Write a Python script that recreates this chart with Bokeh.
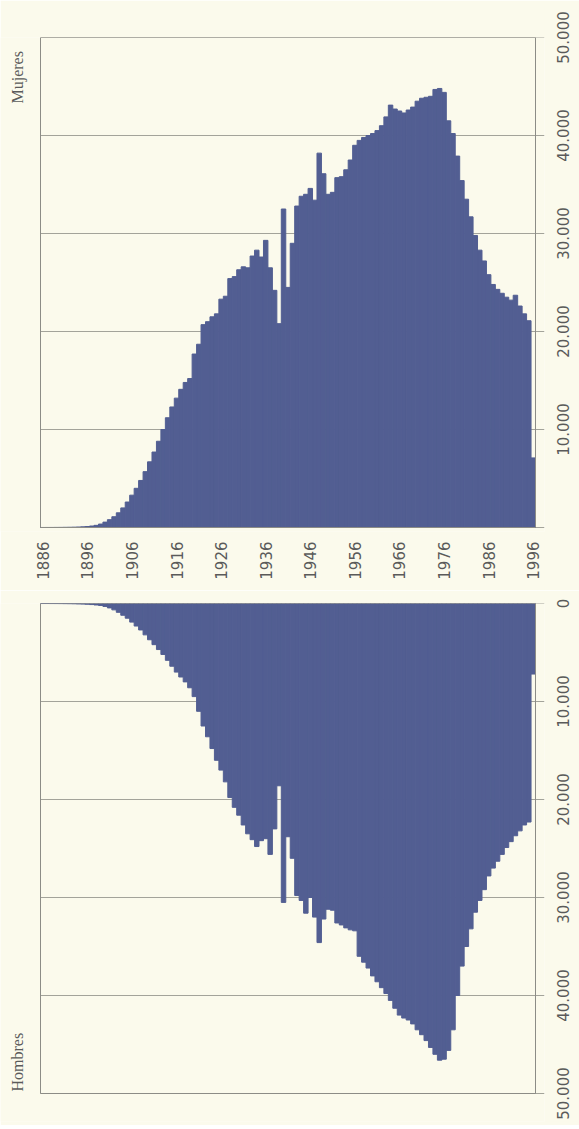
import math
from bokeh.plotting import figure
from bokeh.layouts import column
from bokeh.models import Range1d, FixedTicker, Label
from bokeh.embed import file_html
from bokeh.resources import INLINE

# ---------------- data ----------------
years = list(range(1886, 1997))

mujeres = [
    3, 4, 6, 8, 12, 18, 25, 35, 50, 70,                                  # 1886-1895
    100, 150, 220, 350, 550, 800, 1100, 1500, 2000, 2600,                # 1896-1905
    3300, 4000, 4800, 5700, 6700, 7700, 8800, 10000, 11200, 12300,       # 1906-1915
    13200, 14100, 14800, 15200, 17700, 18700, 20700, 21000, 21500, 21800,  # 1916-1925
    23300, 23600, 25400, 25600, 26300, 26600, 26500, 27700, 28300, 27600,  # 1926-1935
    29300, 26500, 24200, 20800, 32500, 24500, 29000, 32800, 33800, 34000,  # 1936-1945
    34600, 33400, 38200, 36100, 34000, 34200, 35700, 35800, 36500, 37500,  # 1946-1955
    39000, 39500, 39800, 40000, 40200, 40500, 41000, 41900, 43100, 42700,  # 1956-1965
    42500, 42300, 42600, 42900, 43500, 43800, 43900, 44000, 44700, 44800,  # 1966-1975
    44400, 41500, 40200, 37900, 35400, 33500, 31700, 29800, 28300, 27200,  # 1976-1985
    25800, 24800, 24300, 23900, 23500, 23200, 23700, 22600, 21800, 21100,  # 1986-1995
    7100,                                                                  # 1996
]

hombres = [
    2, 3, 5, 7, 10, 15, 22, 30, 45, 60,                                  # 1886-1895
    80, 110, 150, 200, 300, 450, 650, 900, 1200, 1500,                   # 1896-1905
    1900, 2300, 2700, 3200, 3700, 4200, 4700, 5200, 5800, 6400,          # 1906-1915
    7000, 7500, 8000, 8600, 9500, 11000, 12500, 13600, 14800, 16000,     # 1916-1925
    17000, 18200, 19800, 20800, 21600, 22600, 23500, 24100, 24800, 24200,  # 1926-1935
    24000, 25600, 23000, 18600, 30500, 23800, 26000, 29800, 30300, 31600,  # 1936-1945
    30000, 32000, 34600, 32200, 31200, 31300, 32600, 32800, 33100, 33300,  # 1946-1955
    33400, 36000, 36600, 37200, 38000, 38600, 39200, 39800, 40500, 41300,  # 1956-1965
    42000, 42300, 42500, 42900, 43500, 44000, 44600, 45300, 46000, 46600,  # 1966-1975
    46500, 45600, 43500, 40000, 37000, 35000, 33200, 31500, 30300, 29200,  # 1976-1985
    27800, 27000, 26300, 25600, 24900, 24300, 23700, 23200, 22600, 22300,  # 1986-1995
    7200,                                                                  # 1996
]

year_ticks = list(range(1886, 1997, 10))
value_ticks = [0, 10000, 20000, 30000, 40000, 50000]
value_labels = ["0", "10.000", "20.000", "30.000", "40.000", "50.000"]

# ---------------- style / layout ----------------
BG = "#FBFAEC"
BAR = "#525E92"
GRID = "#A3A39A"
FRAME = "#8C8C86"
TXT = "#5A5A5A"
FONT_PX = 15

BOX_LEFT = 40                    # px where the drawn box starts
BOX_W, BOX_H = 495, 490
TICK_PX = 9                      # tick marks right of the box
X0, X1 = 1885.5, 1996.5
PPY = BOX_W / (X1 - X0)          # pixels per year
XL = X0 - BOX_LEFT / PPY         # frame extends left to hold the side label
XT = X1 + TICK_PX / PPY          # frame extends right to hold tick marks
VMAX = 50000
VPP = VMAX / BOX_H               # value per pixel


def label_half_len(s):
    """Half the rendered length (in value units) of a rotated tick label."""
    digits = sum(c.isdigit() for c in s)
    others = len(s) - digits
    px = FONT_PX * (0.636 * digits + 0.318 * others)
    return px / 2 * VPP


def make_panel(is_top):
    ext_px = 4 if is_top else 28
    ext = ext_px * VPP
    p = figure(
        frame_width=BOX_LEFT + BOX_W + TICK_PX, frame_height=BOX_H + ext_px,
        x_range=Range1d(XL, XT),
        y_range=Range1d(-ext, VMAX) if is_top else Range1d(VMAX + ext, 0),
        y_axis_location="right",
        x_axis_location="below" if is_top else None,
        output_backend="svg", toolbar_location=None,
        min_border_left=0, min_border_right=35,
        min_border_top=37 if is_top else 13,
        min_border_bottom=59 if is_top else 4,
    )
    p.background_fill_color = BG
    p.border_fill_color = BG
    p.outline_line_color = None
    p.xgrid.visible = False
    p.ygrid.visible = False

    # grid lines inside the box, continued as tick marks to the right
    n = len(value_ticks)
    p.segment(x0=[X0] * n, x1=[XT] * n, y0=value_ticks, y1=value_ticks,
              line_color=GRID, line_width=1)

    vals = mujeres if is_top else hombres
    p.vbar(x=years, top=vals, bottom=0, width=1.0,
           fill_color=BAR, line_color=BAR, line_width=1)

    # box outline
    p.quad(left=[X0], right=[X1], bottom=[0], top=[VMAX],
           fill_color=None, line_color=FRAME, line_width=1)

    # value labels: rotated text starts at its anchor, so anchor each one
    # half a label-length away from its tick to centre it on the tick
    sign = -1 if is_top else 1
    anchors = [round(t + sign * label_half_len(s)) for t, s in zip(value_ticks, value_labels)]
    ya = p.yaxis[0]
    ya.ticker = FixedTicker(ticks=anchors)
    ya.major_label_overrides = {a: s for a, s in zip(anchors, value_labels)}
    ya.major_label_orientation = math.pi / 2
    ya.major_tick_out = 0
    ya.major_tick_in = 0
    ya.minor_tick_out = 0
    ya.minor_tick_in = 0
    ya.axis_line_color = None
    ya.major_label_standoff = 19
    ya.major_label_text_font = "DejaVu Sans"
    ya.major_label_text_font_size = f"{FONT_PX}px"
    ya.major_label_text_color = TXT

    if is_top:
        xa = p.xaxis[0]
        xa.ticker = FixedTicker(ticks=year_ticks)
        xa.major_label_orientation = math.pi / 2
        xa.major_tick_out = 0
        xa.major_tick_in = 0
        xa.minor_tick_out = 0
        xa.minor_tick_in = 0
        xa.axis_line_color = None
        xa.major_label_standoff = 10
        xa.major_label_text_font = "DejaVu Sans"
        xa.major_label_text_font_size = f"{FONT_PX}px"
        xa.major_label_text_color = TXT

    # side label, centred ~17 px from the left edge
    xd = XL + 17 / PPY
    if is_top:
        yd = (527 - 103) * VPP
        txt = "Mujeres"
    else:
        yd = (1091 - 603) * VPP
        txt = "Hombres"
    p.add_layout(Label(x=xd, y=yd, text=txt, angle=math.pi / 2,
                       text_align="left", text_baseline="middle",
                       text_font="Liberation Serif", text_font_size="16px",
                       text_color=TXT))
    return p


top = make_panel(True)
bottom = make_panel(False)
layout = column(top, bottom, spacing=0)

open("out.html", "w").write(file_html(layout, INLINE))
